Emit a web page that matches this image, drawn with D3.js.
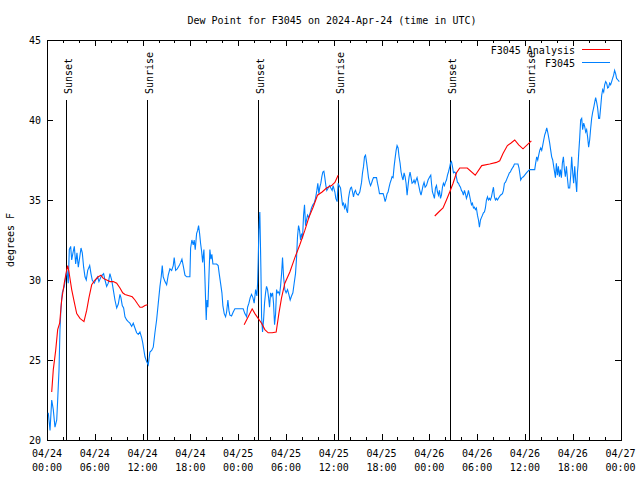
<!DOCTYPE html>
<html><head><meta charset="utf-8">
<script src="https://cdn.jsdelivr.net/npm/d3@7"></script>
<style>
body{margin:0;background:#fff}
text{font-family:"DejaVu Sans Mono","Liberation Mono",monospace;font-size:10px;fill:#000}
</style>
</head><body><svg id="c" width="640" height="480"></svg>
<script>
const chartTitle = "Dew Point for F3045 on 2024-Apr-24 (time in UTC)";
const yAxisLabel = "degrees F";
const startUtc = Date.UTC(2024, 3, 24, 0, 0);
const yDomain = [20, 45];
const yTickValues = [20, 25, 30, 35, 40, 45];
const xSpanHours = 72;
const sunEventHours = [2.42, 12.51, 26.51, 36.55, 50.60, 60.56];
const sunEventLabels = ["Sunset", "Sunrise", "Sunset", "Sunrise", "Sunset", "Sunrise"];
const seriesNames = ["F3045 Analysis", "F3045"];
const seriesColors = ["#ff0000", "#0080ff"];

// F3045 observations: hours since 04/24 00:00 UTC, dew point (F)
const obsHours = [0.16,0.38,0.59,0.79,1.00,1.22,1.34,1.51,1.63,1.76,1.92,2.17,2.35,2.51,2.67,2.80,2.97,3.10,3.26,3.43,3.60,3.76,3.93,4.10,4.27,4.43,4.60,4.77,4.93,5.11,5.36,5.52,5.68,5.93,6.11,6.36,6.52,6.78,6.94,7.11,7.28,7.49,7.69,7.90,8.12,8.32,8.53,8.75,8.95,9.16,9.28,9.45,9.62,9.79,10.00,10.20,10.41,10.63,10.83,11.04,11.25,11.46,11.67,11.88,12.01,12.17,12.30,12.51,12.71,12.92,13.14,13.34,13.55,13.76,13.96,14.18,14.34,14.47,14.59,14.81,15.02,15.22,15.43,15.65,15.85,15.97,16.15,16.35,16.60,16.78,16.94,17.10,17.32,17.53,17.94,18.03,18.19,18.36,18.48,18.61,18.78,18.91,19.03,19.16,19.28,19.41,19.54,19.70,19.82,19.91,19.99,20.08,20.20,20.33,20.45,20.58,20.70,20.83,21.29,21.49,21.62,21.79,21.96,22.08,22.25,22.42,22.55,22.71,22.84,22.96,23.17,23.38,23.59,24.63,24.84,25.06,25.18,25.35,25.51,25.68,25.85,26.01,26.19,26.35,26.44,26.51,26.60,26.72,26.85,26.94,27.06,27.19,27.31,27.44,27.56,27.69,27.82,27.94,28.07,28.19,28.32,28.44,28.57,28.70,28.82,28.95,29.07,29.20,29.32,29.45,29.57,29.70,29.86,30.02,30.20,30.36,30.53,30.70,30.87,31.03,31.20,31.33,31.45,31.58,31.71,31.83,31.96,32.08,32.21,32.33,32.46,32.58,32.71,32.87,33.04,33.21,33.38,33.54,33.71,33.88,34.00,34.13,34.25,34.38,34.50,34.63,34.76,34.88,35.01,35.13,35.30,35.47,35.63,35.80,35.92,36.14,36.26,36.42,36.55,36.68,36.85,36.98,37.10,37.23,37.35,37.48,37.60,37.73,37.85,37.98,38.11,38.23,38.36,38.48,38.61,38.73,38.86,39.06,39.27,39.49,39.61,39.74,39.86,39.99,40.11,40.24,40.36,40.49,40.62,40.74,40.87,40.99,41.37,41.49,41.62,41.74,42.20,42.32,42.45,42.57,42.70,42.82,42.95,43.07,43.20,43.32,43.45,43.58,43.70,43.83,43.95,44.08,44.20,44.33,44.45,44.58,44.70,44.83,44.96,45.08,45.21,45.33,45.46,45.58,45.71,45.83,45.96,46.08,46.21,46.34,46.46,46.59,46.71,46.84,46.96,47.09,47.21,47.34,47.47,47.64,47.84,48.05,48.18,48.27,48.39,48.52,48.64,48.77,48.90,49.02,49.15,49.27,49.40,49.52,49.65,49.77,49.90,50.02,50.15,50.28,50.40,50.53,50.65,50.78,50.90,51.03,51.15,51.28,51.41,51.53,51.66,51.78,51.91,52.03,52.16,52.28,52.41,52.53,52.66,52.79,52.91,53.04,53.16,53.29,53.41,53.54,53.66,53.79,53.91,54.04,54.17,54.29,54.42,54.54,54.67,54.79,54.92,55.04,55.17,55.30,55.42,55.55,55.67,55.80,55.92,56.05,56.17,56.30,56.42,56.55,56.67,56.80,56.93,57.18,57.30,57.43,57.55,57.68,57.80,57.93,58.05,58.18,58.31,58.43,58.56,58.68,59.13,59.26,59.39,59.47,59.64,59.81,60.19,60.39,60.60,61.23,61.35,61.48,61.61,61.73,61.86,61.98,62.11,62.23,62.36,62.48,62.61,62.74,62.86,62.99,63.11,63.24,63.36,63.49,63.61,63.74,63.83,63.95,64.08,64.20,64.33,64.45,64.58,64.70,64.83,64.96,65.08,65.21,65.33,65.46,65.62,65.75,65.87,66.00,66.12,66.25,66.37,66.50,66.59,66.66,66.75,66.88,67.00,67.13,67.25,67.38,67.50,67.63,67.75,67.88,68.00,68.13,68.26,68.38,68.51,68.63,68.76,68.88,69.01,69.13,69.26,69.38,69.51,69.64,69.76,69.89,70.01,70.14,70.26,70.39,70.51,70.64,70.76,70.89,71.01,71.14,71.26,71.39,71.51,71.68,71.85];
const obsDew = [21.7,20.6,22.5,21.9,20.8,21.25,22.5,24.4,26.9,28.3,29.2,29.6,30.2,30.6,29.8,31.9,32.1,31.25,31.7,32.1,31.0,31.7,30.8,31.4,32.0,31.7,30.8,30.2,30.0,30.6,30.9,30.4,30.0,29.8,30.0,30.2,29.9,30.2,30.3,30.4,30.0,29.6,29.8,30.4,30.0,29.4,28.75,28.25,28.5,29.1,28.9,28.4,28.25,27.7,27.5,27.4,27.3,27.1,27.3,27.0,26.7,26.6,26.75,26.4,26.1,25.6,25.2,24.9,24.7,25.5,25.6,25.8,26.7,27.5,28.5,29.6,30.2,30.9,30.2,29.9,29.7,30.3,30.7,30.6,30.9,31.4,30.6,30.7,30.9,31.1,31.3,30.9,30.3,30.2,30.2,32.0,32.5,32.2,32.5,31.9,32.9,33.1,33.4,32.9,32.3,31.8,31.1,31.9,30.2,28.75,27.5,28.75,28.3,30.2,31.9,31.3,31.6,31.0,31.0,30.9,30.4,29.8,29.2,28.4,27.9,27.7,28.0,28.75,28.1,27.8,27.75,28.0,28.2,28.2,27.9,27.7,28.3,28.55,28.9,29.1,28.9,28.55,29.4,29.0,29.8,31.1,33.1,34.25,30.8,27.7,26.75,27.5,28.55,29.2,29.6,29.4,28.9,28.3,29.2,29.0,29.2,28.55,27.2,27.9,29.4,29.2,29.25,29.1,29.6,30.4,31.4,30.2,29.4,29.2,29.4,29.1,28.75,29.0,29.2,29.8,30.4,31.4,32.7,33.4,33.1,32.5,32.9,32.6,34.05,34.7,33.4,33.75,34.05,33.9,34.2,34.5,34.7,34.8,35.1,35.6,36.05,35.4,35.8,36.05,36.45,36.75,36.8,36.4,35.9,35.6,35.75,35.9,35.75,35.6,35.9,35.5,35.1,34.9,36.05,35.9,35.75,35.2,34.7,34.8,34.5,34.7,34.4,34.2,35.1,35.5,35.75,35.8,35.5,35.2,35.5,35.6,35.4,35.3,35.5,36.1,36.7,37.1,37.7,37.8,37.4,36.9,36.4,36.1,35.9,36.05,36.25,36.4,36.4,36.05,35.75,35.4,35.4,35.2,34.9,35.1,35.4,35.5,35.8,36.05,36.25,36.45,36.4,37.1,37.6,38.1,38.4,38.25,37.7,37.3,36.75,36.45,36.25,36.7,36.45,36.05,35.3,35.9,36.45,36.75,36.4,36.05,36.1,36.25,36.05,36.25,36.4,36.1,35.8,35.5,35.3,35.6,35.9,36.1,35.8,35.9,36.25,36.45,36.55,36.05,35.5,35.3,35.1,35.75,35.9,35.5,35.3,35.6,35.1,35.3,35.8,36.05,35.9,36.1,36.25,36.55,36.75,37.0,37.3,37.4,37.1,36.7,36.75,36.7,36.4,36.1,36.05,35.9,35.8,35.6,35.5,35.3,35.6,35.4,35.1,35.3,35.6,35.3,35.0,34.7,34.8,34.5,34.55,34.4,34.5,34.05,33.75,33.3,33.75,33.9,34.05,34.2,34.25,34.5,35.0,35.2,35.0,35.1,35.0,35.2,35.5,35.8,35.2,35.0,35.1,35.0,35.1,35.2,35.3,35.4,35.6,36.05,36.1,36.25,36.4,36.55,36.7,36.75,36.9,37.0,37.1,37.25,37.25,37.0,36.55,36.25,36.4,36.45,36.7,36.8,36.9,36.9,37.3,37.7,37.5,37.8,38.1,38.25,38.1,38.4,38.75,39.05,39.25,39.5,39.25,38.9,38.55,38.1,37.7,37.5,37.1,36.7,36.4,37.3,36.55,37.1,36.45,36.9,36.4,37.3,37.7,36.9,36.45,37.1,36.4,35.75,35.75,36.55,37.7,36.7,36.05,37.1,36.25,35.5,36.7,37.1,37.9,38.9,40.0,40.1,39.4,39.8,39.6,39.25,39.4,38.9,38.3,38.75,39.5,40.1,40.5,40.75,41.1,41.4,41.1,40.75,40.1,40.1,40.8,41.55,41.9,41.75,42.2,42.4,42.3,42.0,42.05,42.3,42.2,42.4,42.6,42.8,43.1,42.9,42.6,42.5,42.4];

// F3045 Analysis: hours since start, dew point (null = gap)
const anaHours = [0.59,0.79,1.09,1.34,1.59,1.84,2.17,2.42,2.60,2.76,3.10,3.43,3.73,4.14,4.64,4.98,5.27,5.61,6.02,6.44,6.78,7.06,7.49,7.90,8.32,8.75,9.16,9.50,9.79,10.41,10.70,11.04,11.38,11.67,11.96,12.30,12.61,
  18.0,
  24.75,25.26,25.76,26.10,26.51,26.94,27.35,27.77,28.27,28.77,29.11,29.45,29.86,30.49,31.12,31.74,32.37,32.87,33.41,33.96,34.54,35.09,35.72,36.14,36.55,
  42.0,
  48.68,49.18,49.72,50.15,50.56,50.98,51.41,51.82,52.76,53.76,54.58,55.58,56.42,56.84,57.25,57.80,58.22,58.72,59.22,59.76,60.81];
const anaDew = [23.0,24.4,25.6,26.9,27.3,28.75,29.8,30.5,30.9,30.5,29.4,28.6,27.9,27.6,27.4,28.1,28.9,29.7,30.0,30.2,30.3,30.1,30.0,29.9,29.9,29.8,29.5,29.2,29.1,29.0,28.95,28.75,28.5,28.3,28.3,28.4,28.45,
  null,
  27.2,27.7,28.2,27.9,27.6,27.3,26.9,26.7,26.7,26.75,27.9,28.9,29.8,30.5,31.4,32.2,33.1,33.9,34.55,35.3,35.5,35.75,35.9,36.1,36.55,
  null,
  34.0,34.25,34.5,35.0,35.5,36.05,36.7,37.0,37.0,36.55,37.15,37.25,37.35,37.45,37.9,38.4,38.55,38.75,38.45,38.2,38.7];

const W = 640, H = 480;
const m = {left: 47, right: 620.5, top: 40, bottom: 440};
const toDate = h => new Date(startUtc + h * 3600e3);
const svg = d3.select("#c");

const x = d3.scaleUtc().domain([toDate(0), toDate(xSpanHours)]).range([m.left, m.right]);
const y = d3.scaleLinear().domain(yDomain).range([m.bottom, m.top]);

// title
svg.append("text").attr("x", 332).attr("y", 24).attr("text-anchor", "middle").text(chartTitle);
// y label
svg.append("text").attr("transform", "translate(14,240) rotate(-90)").attr("text-anchor", "middle").text(yAxisLabel);

const grid = svg.append("g").attr("shape-rendering", "crispEdges").attr("stroke", "#000").attr("stroke-width", 1);

// x ticks (inward, mirrored)
const minorTicks = d3.utcHour.every(2).range(toDate(0), toDate(xSpanHours + 0.01));
minorTicks.forEach(t => {
  const h = (t - startUtc) / 3600e3;
  const len = (h % 6 === 0) ? 6 : 3;
  const px = Math.round(x(t)) + 0.5;
  grid.append("line").attr("x1", px).attr("x2", px).attr("y1", m.bottom).attr("y2", m.bottom - len);
  grid.append("line").attr("x1", px).attr("x2", px).attr("y1", m.top).attr("y2", m.top + len);
});
const majorTicks = d3.utcHour.every(6).range(toDate(0), toDate(xSpanHours + 0.01));
const fmtD = d3.utcFormat("%m/%d"), fmtT = d3.utcFormat("%H:%M");
majorTicks.forEach(t => {
  const tx = svg.append("text").attr("text-anchor", "middle");
  tx.append("tspan").attr("x", x(t)).attr("y", 457).text(fmtD(t));
  tx.append("tspan").attr("x", x(t)).attr("y", 471).text(fmtT(t));
});

// y ticks
yTickValues.forEach(v => {
  const py = Math.round(y(v)) + 0.5;
  grid.append("line").attr("x1", m.left).attr("x2", m.left + 6).attr("y1", py).attr("y2", py);
  grid.append("line").attr("x1", m.right).attr("x2", m.right - 6).attr("y1", py).attr("y2", py);
  svg.append("text").attr("x", 41).attr("y", y(v) + 4).attr("text-anchor", "end").text(v);
});

// sunrise / sunset lines
sunEventHours.forEach((h, i) => {
  const px = Math.round(x(toDate(h))) + 0.5;
  grid.append("line").attr("x1", px).attr("x2", px).attr("y1", 100).attr("y2", m.bottom);
  svg.append("text").attr("transform", `translate(${px + 5},94) rotate(-90)`).attr("text-anchor", "start").text(sunEventLabels[i]);
});

// data lines
const line = d3.line().defined(d => d[1] != null).x(d => x(toDate(d[0]))).y(d => y(d[1]));
svg.append("path").datum(obsHours.map((h, i) => [h, obsDew[i]]))
  .attr("d", line).attr("fill", "none").attr("stroke", seriesColors[1]).attr("stroke-width", 1.1);
svg.append("path").datum(anaHours.map((h, i) => [h, anaDew[i]]))
  .attr("d", line).attr("fill", "none").attr("stroke", seriesColors[0]).attr("stroke-width", 1.1);

// frame
grid.append("rect").attr("x", m.left + 0.5).attr("y", m.top + 0.5)
  .attr("width", Math.round(m.right - m.left)).attr("height", m.bottom - m.top).attr("fill", "none");

// legend
seriesNames.forEach((name, i) => {
  const ly = 49.5 + i * 13;
  svg.append("text").attr("x", 575).attr("y", ly + 4).attr("text-anchor", "end").text(name);
  svg.append("line").attr("x1", 582).attr("x2", 610).attr("y1", ly).attr("y2", ly)
    .attr("stroke", seriesColors[i]).attr("stroke-width", 1).attr("shape-rendering", "crispEdges");
});
</script>
</body></html>
